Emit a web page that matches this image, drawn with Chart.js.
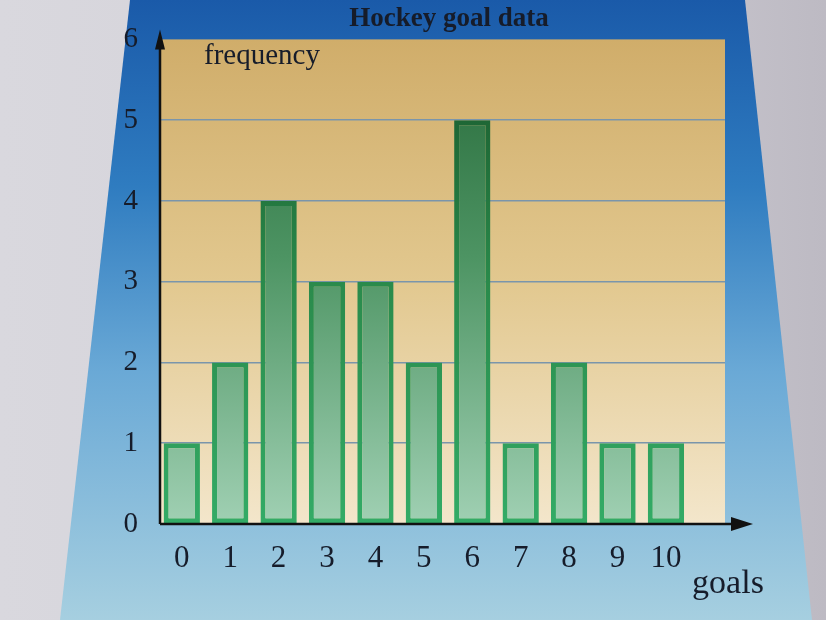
<!DOCTYPE html>
<html>
<head>
<meta charset="utf-8">
<script src="https://cdn.jsdelivr.net/npm/chart.js@4.4.1/dist/chart.umd.min.js"></script>
<style>
  html, body { margin: 0; padding: 0; }
  body { width: 826px; height: 620px; position: relative; overflow: hidden;
         background: linear-gradient(90deg, #d9d8de 0%, #d2d0d7 60%, #bdbac3 100%); }
  #panel { position: absolute; left: 0; top: 0; width: 826px; height: 620px;
           background: linear-gradient(180deg, #1a5aa9 0%, #2f7cc0 30%, #6aa9d6 60%, #a6cfe0 100%);
           clip-path: polygon(130px 0, 745px 0, 812px 620px, 60px 620px); }
  #wrap { position: absolute; left: 0; top: 0; width: 826px; height: 620px; }
  canvas { display: block; }
</style>
</head>
<body>
<div id="panel"></div>
<div id="wrap"><canvas id="myChart" width="826" height="620"></canvas></div>
<script>
// データ
var goals = [0, 1, 2, 3, 4, 5, 6, 7, 8, 9, 10];
var frequency = [1, 2, 4, 3, 3, 2, 5, 1, 2, 1, 1];
var yTicks = [0, 1, 2, 3, 4, 5, 6];

var serif = '"Liberation Serif", "DejaVu Serif", serif';
var textColor = '#161c2a';

// 背景・軸・ラベル用のプラグイン
var decoPlugin = {
    id: 'deco',
    beforeDraw: function(chart) {
        var c = chart.ctx, a = chart.chartArea;
        var g = c.createLinearGradient(0, a.top, 0, a.bottom);
        g.addColorStop(0, '#d0ad6a');
        g.addColorStop(0.5, '#e2c88f');
        g.addColorStop(1, '#f3e6cb');
        c.save();
        c.fillStyle = g;
        c.fillRect(a.left, a.top, a.right - a.left, a.bottom - a.top);
        c.restore();
    },
    afterDatasetsDraw: function(chart) {
        var c = chart.ctx, a = chart.chartArea;
        c.save();
        c.strokeStyle = '#111';
        c.fillStyle = '#111';
        c.lineWidth = 2.5;
        // x軸
        c.beginPath();
        c.moveTo(a.left, a.bottom);
        c.lineTo(a.right + 10, a.bottom);
        c.stroke();
        c.beginPath();
        c.moveTo(a.right + 28, a.bottom);
        c.lineTo(a.right + 6, a.bottom - 7);
        c.lineTo(a.right + 6, a.bottom + 7);
        c.closePath();
        c.fill();
        // y軸
        c.beginPath();
        c.moveTo(a.left, a.bottom);
        c.lineTo(a.left, a.top + 6);
        c.stroke();
        c.beginPath();
        c.moveTo(a.left, a.top - 10);
        c.lineTo(a.left - 5, a.top + 10);
        c.lineTo(a.left + 5, a.top + 10);
        c.closePath();
        c.fill();

        // テキスト
        c.fillStyle = textColor;
        c.textBaseline = 'middle';
        c.textAlign = 'center';
        c.font = 'bold 27px ' + serif;
        c.fillText('Hockey goal data', 449, 19);
        c.textAlign = 'left';
        c.font = '29px ' + serif;
        c.fillText('frequency', a.left + 44, a.top + 17);
        c.textAlign = 'center';
        c.font = '34px ' + serif;
        c.fillText('goals', a.right + 3, 584);
        c.restore();
    }
};

var ctx = document.getElementById('myChart');
var chart = new Chart(ctx, {
    type: 'bar',
    data: {
        datasets: [{
            label: 'frequency',
            data: goals.map(function(g, i) { return { x: g, y: frequency[i] }; }),
            backgroundColor: function(context) {
                var a = context.chart.chartArea;
                if (!a) return '#6aa97e';
                var g = context.chart.ctx.createLinearGradient(0, a.top, 0, a.bottom);
                g.addColorStop(0, '#256838');
                g.addColorStop(0.45, '#4d9463');
                g.addColorStop(1, '#a0d0b3');
                return g;
            },
            borderColor: function(context) {
                var a = context.chart.chartArea;
                if (!a) return '#2f9a5c';
                var g = context.chart.ctx.createLinearGradient(0, a.top, 0, a.bottom);
                g.addColorStop(0, '#18552a');
                g.addColorStop(0.5, '#2a8a4b');
                g.addColorStop(1, '#33ab66');
                return g;
            },
            borderWidth: 5,
            borderSkipped: false,
            barPercentage: 0.75,
            categoryPercentage: 1.0
        }]
    },
    options: {
        responsive: false,
        animation: false,
        layout: { padding: { left: 95, right: 101, top: 36, bottom: 0 } },
        plugins: {
            legend: { display: false },
            tooltip: { enabled: false },
            title: { display: false }
        },
        scales: {
            x: {
                type: 'linear',
                offset: false,
                min: -0.45,
                max: 11.22,
                grid: { display: false, drawTicks: false },
                border: { display: false },
                afterFit: function(scale) { scale.height = 96; },
                ticks: {
                    stepSize: 1,
                    includeBounds: false,
                    padding: 16,
                    maxRotation: 0,
                    autoSkip: false,
                    color: textColor,
                    font: { family: serif, size: 31 },
                    callback: function(v) { return goals.indexOf(v) >= 0 ? String(v) : ''; }
                }
            },
            y: {
                min: yTicks[0],
                max: yTicks[yTicks.length - 1],
                afterFit: function(scale) { scale.width = 65; },
                afterBuildTicks: function(scale) {
                    scale.ticks = yTicks.map(function(v) { return { value: v }; });
                },
                grid: {
                    drawTicks: false,
                    lineWidth: 1.5,
                    color: function(c) {
                        var v = c.tick ? c.tick.value : 0;
                        return (v === 0 || v === 6) ? 'rgba(0,0,0,0)' : '#7a95ab';
                    }
                },
                border: { display: false },
                ticks: {
                    padding: 22,
                    color: textColor,
                    font: { family: serif, size: 29 }
                }
            }
        }
    },
    plugins: [decoPlugin]
});
</script>
</body>
</html>
